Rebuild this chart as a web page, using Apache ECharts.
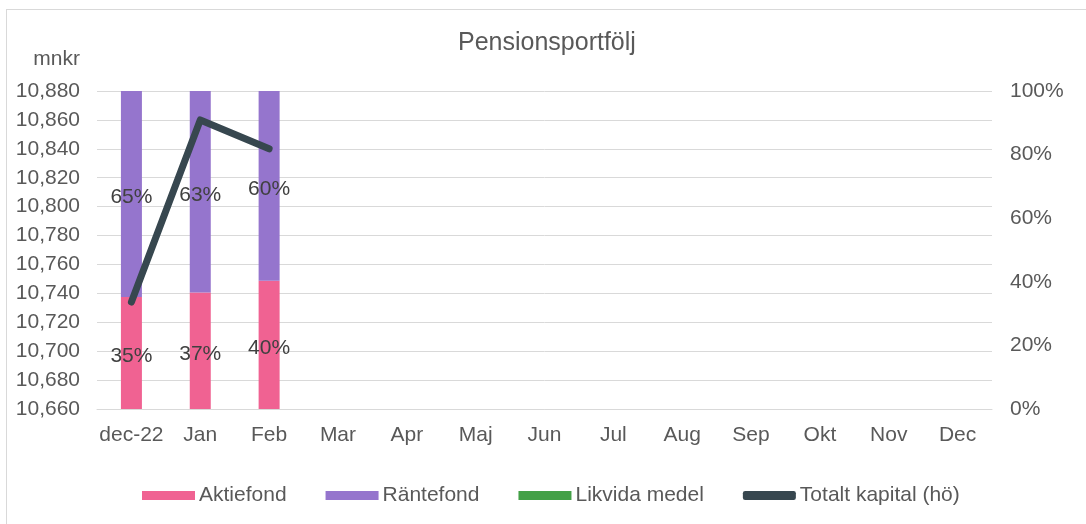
<!DOCTYPE html>
<html>
<head>
<meta charset="utf-8">
<script src="https://cdn.jsdelivr.net/npm/echarts@6/dist/echarts.min.js"></script>
<style>
  html, body { margin: 0; padding: 0; background: #fff; }
  #main { position: absolute; left: 0; top: 0; width: 1086px; height: 524px; }
  #frame { position: absolute; left: 6px; top: 9px; width: 1086px; height: 524px;
           border-left: 1px solid #D9D9D9; border-top: 1px solid #D9D9D9; }
</style>
</head>
<body>
<div id="frame"></div>
<div id="main"></div>
<script>
// kategorier och värden
var months = ['dec-22', 'Jan', 'Feb', 'Mar', 'Apr', 'Maj', 'Jun', 'Jul', 'Aug', 'Sep', 'Okt', 'Nov', 'Dec'];
var aktiefond = [35.2, 36.6, 40.3];      // % av kapital
var rantefond = [64.8, 63.4, 59.7];      // % av kapital
var likvidaMedel = [0, 0, 0];            // % av kapital
var totaltKapital = [10734, 10860, 10840]; // mnkr

var font = 'Liberation Sans, Arial, sans-serif';
var textColor = '#595959';
var fs = 21;

var myChart = echarts.init(document.getElementById('main'));

function pctLabel(p) {
    return p.value ? Math.round(p.value) + '%' : '';
}

var barLabel = { show: true, position: 'inside', offset: [0, 3], color: '#404040', fontSize: fs, fontFamily: font, formatter: pctLabel };

myChart.setOption({
    animation: false,
    textStyle: { fontFamily: font },
    title: {
        text: 'Pensionsportfölj',
        left: 453,
        top: 26,
        textStyle: { fontFamily: font, fontSize: 25, fontWeight: 'normal', color: textColor }
    },
    legend: {
        left: 137,
        top: 480,
        itemWidth: 53,
        itemHeight: 9,
        itemGap: 39,
        textStyle: { fontFamily: font, fontSize: fs, color: textColor, padding: [0, 0, 0, -1] },
        data: [
            { name: 'Aktiefond', icon: 'rect' },
            { name: 'Räntefond', icon: 'rect' },
            { name: 'Likvida medel', icon: 'rect' },
            { name: 'Totalt kapital (hö)', icon: 'roundRect' }
        ]
    },
    grid: { left: 97, right: 94, top: 91, bottom: 115 },
    xAxis: {
        type: 'category',
        data: months,
        axisTick: { show: false },
        axisLine: { lineStyle: { color: '#D9D9D9', width: 1 } },
        axisLabel: { color: textColor, fontSize: fs, fontFamily: font, margin: 16, interval: 0 }
    },
    yAxis: [
        {
            type: 'value',
            min: 10660,
            max: 10880,
            interval: 20,
            name: 'mnkr',
            nameLocation: 'end',
            nameGap: 21,
            nameTextStyle: { color: textColor, fontSize: fs, fontFamily: font, align: 'right', padding: [0, 17, 0, 0] },
            axisLine: { show: false },
            axisTick: { show: false },
            axisLabel: {
                color: textColor, fontSize: fs, fontFamily: font, margin: 17,
                formatter: function (v) { return v.toLocaleString('en-US'); }
            },
            splitLine: { lineStyle: { color: '#D9D9D9', width: 1 } }
        },
        {
            type: 'value',
            min: 0,
            max: 100,
            interval: 20,
            axisLine: { show: false },
            axisTick: { show: false },
            axisLabel: { color: textColor, fontSize: fs, fontFamily: font, margin: 18, formatter: '{value}%' },
            splitLine: { show: false }
        }
    ],
    series: [
        {
            name: 'Aktiefond',
            type: 'bar',
            stack: 'andel',
            yAxisIndex: 1,
            barWidth: 21,
            itemStyle: { color: '#F06292' },
            label: barLabel,
            data: aktiefond
        },
        {
            name: 'Räntefond',
            type: 'bar',
            stack: 'andel',
            yAxisIndex: 1,
            barWidth: 21,
            itemStyle: { color: '#9575CD' },
            label: barLabel,
            data: rantefond
        },
        {
            name: 'Likvida medel',
            type: 'bar',
            stack: 'andel',
            yAxisIndex: 1,
            barWidth: 21,
            itemStyle: { color: '#43A047' },
            label: barLabel,
            data: likvidaMedel
        },
        {
            name: 'Totalt kapital (hö)',
            type: 'line',
            yAxisIndex: 0,
            showSymbol: false,
            symbol: 'none',
            itemStyle: { color: '#37474F' },
            lineStyle: { color: '#37474F', width: 7, cap: 'round', join: 'round' },
            z: 5,
            data: totaltKapital
        }
    ]
});
</script>
</body>
</html>
